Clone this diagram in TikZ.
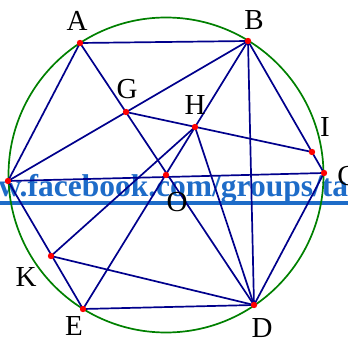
\documentclass[tikz,border=0pt]{standalone}
\usepackage{fontspec}
\setmainfont{Liberation Serif}
\definecolor{navyline}{RGB}{0,0,140}
\definecolor{circgreen}{RGB}{0,128,0}
\definecolor{dotred}{RGB}{255,0,0}
\definecolor{wmblue}{RGB}{30,108,200}
\begin{document}
\begin{tikzpicture}[x=1pt,y=-1pt,
  seg/.style={draw=navyline,line width=1.7pt},
  circ/.style={draw=circgreen,line width=1.7pt},
  lab/.style={inner sep=0pt,font=\fontsize{29}{29}\selectfont},
  wmtext/.style={anchor=base west,inner sep=0pt,text=wmblue,font=\fontsize{31.5}{31.5}\selectfont\bfseries},
  dotmark/.style={fill=dotred}]
\useasboundingbox (0,0) rectangle (348,339);
\clip (0,0) rectangle (348,339);
% watermark
\node[wmtext] (wm) at (-47,197) {www.facebook.com/groups/ta};
\fill[wmblue] (0,201) rectangle (348,205);
% points
\coordinate (O) at (166,175);
\coordinate (A) at (80,43);
\coordinate (B) at (248,41);
\coordinate (C) at (324,173);
\coordinate (D) at (254,305);
\coordinate (E) at (83,309);
\coordinate (F) at (8,181);
\coordinate (G) at (126,112);
\coordinate (H) at (195,127);
\coordinate (I) at (312,152);
\coordinate (K) at (51,256);
% circle
\draw[circ] (O) circle[radius=157.5];
% segments
\draw[seg] (A) -- (B);
\draw[seg] (A) -- (F);
\draw[seg] (A) -- (D);
\draw[seg] (B) -- (F);
\draw[seg] (G) -- (I);
\draw[seg] (B) -- (E);
\draw[seg] (B) -- (D);
\draw[seg] (B) -- (C);
\draw[seg] (C) -- (D);
\draw[seg] (F) -- (C);
\draw[seg] (H) -- (K);
\draw[seg] (H) -- (D);
\draw[seg] (K) -- (D);
\draw[seg] (E) -- (D);
\draw[seg] (F) -- (E);
% dots
\foreach \p in {A,B,C,D,E,F,G,H,I,K,O}
  \fill[dotmark] (\p) circle[radius=3.2];
% labels
\node[lab] (lA) at (77,21) {A};
\node[lab] (lB) at (254,20) {B};
\node[lab] (lG) at (127,89) {G};
\node[lab] (lH) at (195,105) {H};
\node[lab] (lI) at (325,127) {I};
\node[lab] (lC) at (347,176) {C};
\node[lab] (lO) at (177,202) {O};
\node[lab] (lK) at (26,277) {K};
\node[lab] (lE) at (74,326) {E};
\node[lab] (lD) at (262,328) {D};
\end{tikzpicture}
\end{document}
